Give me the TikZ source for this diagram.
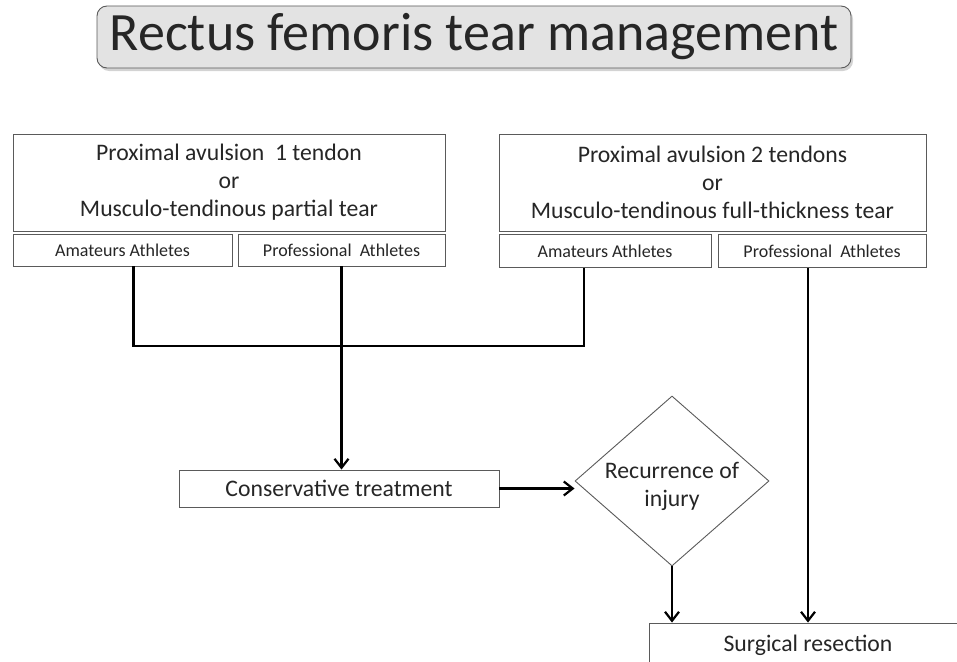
\documentclass[tikz,border=0pt]{standalone}
\usepackage{fontspec}
\setmainfont{Carlito}
\usetikzlibrary{arrows.meta,shapes.geometric,shadows}
\definecolor{txt}{HTML}{262626}
\definecolor{edge}{HTML}{5A5A5A}
\definecolor{titlefill}{HTML}{E3E3E3}
\begin{document}
\begin{tikzpicture}[x=1pt,y=-1pt,
  box/.style={draw=edge, line width=0.9pt, fill=white, inner sep=0pt, text=txt, align=center},
  bigtext/.style={font=\fontsize{23.7}{28}\selectfont},
  smalltext/.style={font=\fontsize{18}{21}\selectfont},
  conn/.style={line width=2.8pt, draw=black},
  arr/.style={conn, -{Straight Barb[length=9pt,width=14pt,line width=2.2pt]}}]
\useasboundingbox (0,0) rectangle (957,661);
\clip (0,0) rectangle (957,661);
% title
\node[box, rounded corners=10pt, fill=titlefill,
      drop shadow={opacity=0.35, shadow xshift=2pt, shadow yshift=-3pt},
      minimum width=754pt, minimum height=62pt,
      font=\fontsize{54}{60}\selectfont] (title) at (474,37) {Rectus femoris tear management};
% big boxes
\node[box, bigtext, minimum width=432pt, minimum height=97pt] (bl) at (229,182.5)
  {Proximal avulsion \ 1 tendon\\or\\Musculo-tendinous partial tear};
\node[box, bigtext, minimum width=427pt, minimum height=97pt] (br) at (712.5,182.5)
  {Proximal avulsion 2 tendons\\or\\Musculo-tendinous full-thickness tear};
% sub boxes
\node[box, smalltext, minimum width=219pt, minimum height=32pt] (aL) at (122.5,250) {Amateurs Athletes};
\node[box, smalltext, minimum width=207pt, minimum height=32pt] (pL) at (341.5,250) {Professional \ Athletes};
\node[box, smalltext, minimum width=212pt, minimum height=33pt] (aR) at (605,251) {Amateurs Athletes};
\node[box, smalltext, minimum width=208pt, minimum height=33pt] (pR) at (822,251) {Professional \ Athletes};
% lower nodes
\node[box, bigtext, minimum width=320pt, minimum height=37pt] (cons) at (339,488.5) {Conservative treatment};
\node[box, bigtext, diamond, shape aspect=1.14, minimum width=194pt, minimum height=170pt] (dia) at (672,481)
  {\raisebox{-12pt}[0pt][0pt]{\begin{tabular}{@{}c@{}}Recurrence of\\injury\end{tabular}}};
\node[box, bigtext, minimum width=318pt, minimum height=44pt] (surg) at (808,645) {Surgical resection};
% connectors
\coordinate (j) at (342,346);
\draw[conn] ([xshift=11pt]aL.south) |- (j) -| ([xshift=-21pt]aR.south);
\draw[arr] (pL.south) -- (pL.south |- cons.north);
\draw[arr] (cons.east) -- (cons.east -| dia.west);
\draw[arr] (dia.south) -- (dia.south |- surg.north);
\draw[arr] ([xshift=-14pt]pR.south) -- ([xshift=-14pt]pR.south |- surg.north);
\end{tikzpicture}
\end{document}
